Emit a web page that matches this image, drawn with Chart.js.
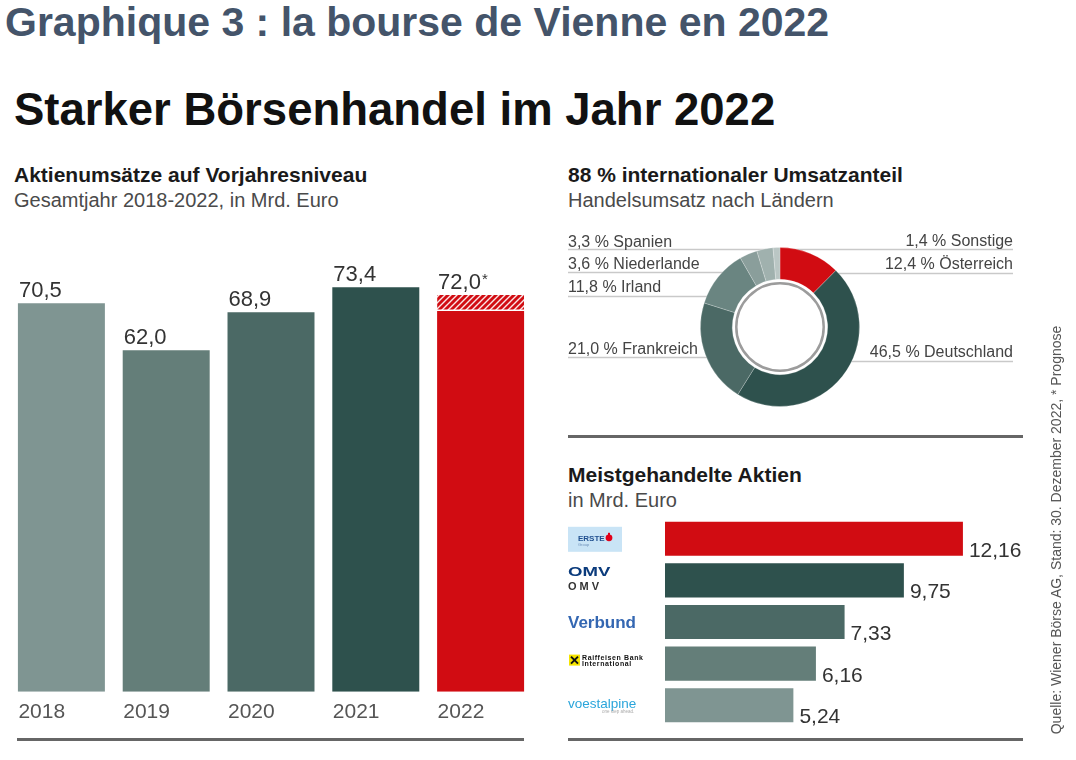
<!DOCTYPE html>
<html lang="de">
<head>
<meta charset="utf-8">
<title>Graphique 3 : la bourse de Vienne en 2022</title>
<script src="https://cdn.jsdelivr.net/npm/chart.js@4.4.1/dist/chart.umd.min.js"></script>
<style>
  html, body { margin: 0; padding: 0; background: #fff; }
  body { width: 1076px; height: 760px; position: relative; overflow: hidden; font-family: "Liberation Sans", Arial, sans-serif; }
  .txt { position: absolute; white-space: nowrap; line-height: 1; }
  .h { font-size: 21px; font-weight: bold; color: #1a1a1a; }
  .sub { font-size: 20px; color: #4a4a4a; }
  .rule { position: absolute; height: 3px; background: #666; }
  canvas { position: absolute; }
  #quelle { position: absolute; left: 844px; top: 522px; width: 424px; height: 16px; line-height: 16px;
            font-size: 14px; color: #555; text-align: center; white-space: nowrap; transform: rotate(-90deg); }
</style>
</head>
<body>
<div class="txt" style="left:5px;top:2px;font-size:41px;font-weight:bold;color:#44546a">Graphique 3 : la bourse de Vienne en 2022</div>
<div class="txt" style="left:14px;top:87px;font-size:45.5px;font-weight:bold;color:#111">Starker Börsenhandel im Jahr 2022</div>

<div class="txt h" style="left:14px;top:164px">Aktienumsätze auf Vorjahresniveau</div>
<div class="txt sub" style="left:14px;top:190px">Gesamtjahr 2018-2022, in Mrd. Euro</div>
<div class="txt h" style="left:568px;top:164px">88 % internationaler Umsatzanteil</div>
<div class="txt sub" style="left:568px;top:190px">Handelsumsatz nach Ländern</div>
<div class="txt h" style="left:568px;top:464px">Meistgehandelte Aktien</div>
<div class="txt sub" style="left:568px;top:490px">in Mrd. Euro</div>

<canvas id="umsatzChart" width="545" height="503" style="left:0;top:230px"></canvas>
<canvas id="laenderChart" width="460" height="200" style="left:560px;top:226px"></canvas>
<canvas id="aktienChart" width="500" height="236" style="left:560px;top:508px"></canvas>

<div class="rule" style="left:17px;top:738px;width:507px"></div>
<div class="rule" style="left:568px;top:435px;width:455px"></div>
<div class="rule" style="left:568px;top:738px;width:455px"></div>
<div id="quelle">Quelle: Wiener Börse AG, Stand: 30. Dezember 2022, * Prognose</div>

<script>
// --- Daten ---
const jahre = ['2018', '2019', '2020', '2021', '2022'];
const umsatzIst = [70.5, 62.0, 68.9, 73.4, 69.1];     // voller Balken
const umsatzPrognose = [0, 0, 0, 0, 2.9];              // schraffierter Teil 2022
const umsatzWerte = [70.5, 62.0, 68.9, 73.4, 72.0];    // Beschriftung
const umsatzStern = [false, false, false, false, true];

const laender = ['Österreich', 'Deutschland', 'Frankreich', 'Irland', 'Niederlande', 'Spanien', 'Sonstige'];
const laenderAnteil = [12.4, 46.5, 21.0, 11.8, 3.6, 3.3, 1.4];

const aktien = ['Erste Group', 'OMV', 'Verbund', 'Raiffeisen Bank International', 'voestalpine'];
const aktienUmsatz = [12.16, 9.75, 7.33, 6.16, 5.24];

// --- Stil ---
const FONT = '"Liberation Sans", Arial, sans-serif';
const ROT = '#d10c12';
const saeulenFarben = ['#7f9592', '#647e79', '#4b6965', '#2e514d', ROT];
const laenderFarben = [ROT, '#2e514d', '#4b6965', '#6a8581', '#8a9e9b', '#a0b1ae', '#bac6c4'];
const aktienFarben = [ROT, '#2e514d', '#4b6965', '#647e79', '#7f9592'];

// Beschriftung der Länder: Seite, Grundlinie, Linie (Seitenkoordinaten)
const laenderZeilen = [
  ['right', 269, 273.5],
  ['right', 357, 361.5],
  ['left', 354, 357.5],
  ['left', 292, 296.5],
  ['left', 269, 272.5],
  ['left', 246.5, 249.5],
  ['right', 245.5, 249.5]
];
const DONUT_LEFT = 560, DONUT_TOP = 226;

Chart.defaults.font.family = FONT;
Chart.defaults.color = '#444';
Chart.defaults.animation = false;

const komma = (v, d) => v.toFixed(d).replace('.', ',');

function schraffur() {
  const c = document.createElement('canvas');
  c.width = 6; c.height = 6;
  const g = c.getContext('2d');
  g.fillStyle = ROT;
  g.fillRect(0, 0, 6, 6);
  g.strokeStyle = 'rgba(255,255,255,0.9)';
  g.lineWidth = 1.4;
  g.beginPath();
  g.moveTo(-1, 7); g.lineTo(7, -1);
  g.moveTo(-1, 1); g.lineTo(1, -1);
  g.moveTo(5, 7); g.lineTo(7, 5);
  g.stroke();
  return g.createPattern(c, 'repeat');
}

// --- Säulen: Aktienumsätze ---
const saeulenWerte = {
  id: 'saeulenWerte',
  afterDatasetsDraw(chart) {
    const ctx = chart.ctx;
    const bars = chart.getDatasetMeta(1).data;
    ctx.save();
    ctx.fillStyle = '#333';
    ctx.textAlign = 'left';
    ctx.textBaseline = 'alphabetic';
    bars.forEach((bar, i) => {
      const x = bar.x - bar.width / 2 + 1;
      const y = bar.y - 6;
      const s = komma(umsatzWerte[i], 1);
      ctx.font = '22px ' + FONT;
      ctx.fillText(s, x, y);
      if (umsatzStern[i]) {
        const w = ctx.measureText(s).width;
        ctx.font = '15px ' + FONT;
        ctx.fillText('*', x + w + 1, y - 5);
      }
    });
    ctx.restore();
  }
};

new Chart(document.getElementById('umsatzChart'), {
  type: 'bar',
  data: {
    labels: jahre,
    datasets: [
      { label: 'Umsatz', data: umsatzIst, backgroundColor: saeulenFarben },
      { label: 'Prognose', data: umsatzPrognose, backgroundColor: schraffur(),
        borderColor: '#fff', borderWidth: { top: 0, left: 0, right: 0, bottom: 1.5 }, borderSkipped: false }
    ]
  },
  options: {
    responsive: false,
    barPercentage: 0.83,
    categoryPercentage: 1,
    layout: { padding: { left: 9, right: 12, top: 21, bottom: 0 } },
    plugins: { legend: { display: false }, tooltip: { enabled: false } },
    scales: {
      x: {
        stacked: true,
        grid: { display: false, drawTicks: false },
        border: { display: false },
        ticks: { color: '#555', font: { size: 21 }, align: 'start', labelOffset: -43, padding: 8 }
      },
      y: { stacked: true, display: false, min: 0, max: 80 }
    }
  },
  plugins: [saeulenWerte]
});

// --- Ring: Umsatz nach Ländern ---
const ringBeschriftung = {
  id: 'ringBeschriftung',
  beforeDatasetsDraw(chart) {
    const arc = chart.getDatasetMeta(0).data[0];
    const cx = arc.x, cy = arc.y, r = arc.outerRadius;
    const ctx = chart.ctx;
    ctx.save();
    ctx.strokeStyle = '#c9c9c9';
    ctx.lineWidth = 1.5;
    laenderZeilen.forEach(([side, , ly]) => {
      const y = ly - DONUT_TOP;
      const dy = y - cy;
      const half = Math.abs(dy) < r ? Math.sqrt(r * r - dy * dy) - 4 : 0;
      ctx.beginPath();
      if (side === 'left') { ctx.moveTo(568 - DONUT_LEFT, y); ctx.lineTo(cx - half, y); }
      else { ctx.moveTo(cx + half, y); ctx.lineTo(1013 - DONUT_LEFT, y); }
      ctx.stroke();
    });
    ctx.restore();
  },
  afterDatasetsDraw(chart) {
    const arc = chart.getDatasetMeta(0).data[0];
    const ctx = chart.ctx;
    ctx.save();
    ctx.strokeStyle = '#9c9c9c';
    ctx.lineWidth = 2.5;
    ctx.beginPath();
    ctx.arc(arc.x, arc.y, arc.innerRadius - 4, 0, Math.PI * 2);
    ctx.stroke();
    ctx.font = '16px ' + FONT;
    ctx.fillStyle = '#444';
    ctx.textBaseline = 'alphabetic';
    laenderZeilen.forEach(([side, base], i) => {
      const s = komma(laenderAnteil[i], 1) + ' % ' + laender[i];
      if (side === 'left') { ctx.textAlign = 'left'; ctx.fillText(s, 568 - DONUT_LEFT, base - DONUT_TOP); }
      else { ctx.textAlign = 'right'; ctx.fillText(s, 1013 - DONUT_LEFT, base - DONUT_TOP); }
    });
    ctx.restore();
  }
};

new Chart(document.getElementById('laenderChart'), {
  type: 'doughnut',
  data: {
    labels: laender,
    datasets: [{
      data: laenderAnteil,
      backgroundColor: laenderFarben,
      borderColor: 'rgba(255,255,255,0.22)',
      borderWidth: 1,
      hoverOffset: 0,
      offset: 0
    }]
  },
  options: {
    responsive: false,
    cutout: '60%',
    layout: { padding: { left: 140, right: 160, top: 21, bottom: 19 } },
    plugins: { legend: { display: false }, tooltip: { enabled: false } }
  },
  plugins: [ringBeschriftung]
});

// --- Balken: Meistgehandelte Aktien ---
function logo(ctx, i, x, cy) {
  ctx.textAlign = 'left';
  ctx.textBaseline = 'alphabetic';
  if (i === 0) {
    ctx.fillStyle = '#c9e4f6';
    ctx.fillRect(x, cy - 12, 54, 25);
    ctx.fillStyle = '#1f4f8f';
    ctx.font = 'bold 8px ' + FONT;
    ctx.fillText('ERSTE', x + 10, cy + 2);
    ctx.fillStyle = '#e2001a';
    ctx.beginPath();
    ctx.arc(x + 41, cy - 1, 3.4, 0, Math.PI * 2);
    ctx.fill();
    ctx.fillRect(x + 40, cy - 6, 2, 3);
    ctx.fillStyle = '#6d8fb8';
    ctx.font = '4px ' + FONT;
    ctx.fillText('Group', x + 10, cy + 7);
  } else if (i === 1) {
    ctx.save();
    ctx.fillStyle = '#0b3b7c';
    ctx.font = '900 12px ' + FONT;
    ctx.translate(x, cy - 4.5);
    ctx.scale(1.55, 1);
    ctx.fillText('OMV', 0, 0);
    ctx.restore();
    ctx.fillStyle = '#333';
    ctx.font = 'bold 11px ' + FONT;
    ctx.letterSpacing = '3px';
    ctx.fillText('OMV', x, cy + 9.5);
    ctx.letterSpacing = '0px';
  } else if (i === 2) {
    ctx.fillStyle = '#3467b2';
    ctx.font = 'bold 17px ' + FONT;
    ctx.fillText('Verbund', x, cy + 6);
  } else if (i === 3) {
    ctx.fillStyle = '#f5e400';
    ctx.fillRect(x + 1, cy - 9, 11, 11);
    ctx.strokeStyle = '#111';
    ctx.lineWidth = 2;
    ctx.beginPath();
    ctx.moveTo(x + 3, cy - 7); ctx.lineTo(x + 10, cy);
    ctx.moveTo(x + 10, cy - 7); ctx.lineTo(x + 3, cy);
    ctx.stroke();
    ctx.fillStyle = '#111';
    ctx.font = 'bold 7px ' + FONT;
    ctx.letterSpacing = '0.6px';
    ctx.fillText('Raiffeisen Bank', x + 14, cy - 4);
    ctx.fillText('International', x + 14, cy + 2);
    ctx.letterSpacing = '0px';
  } else {
    ctx.fillStyle = '#2aa5db';
    ctx.font = '13.5px ' + FONT;
    ctx.fillText('voestalpine', x, cy + 2.5);
    ctx.fillStyle = '#aaa';
    ctx.font = '4.5px ' + FONT;
    ctx.fillText('one step ahead.', x + 34, cy + 8);
  }
}

const aktienBeschriftung = {
  id: 'aktienBeschriftung',
  afterDatasetsDraw(chart) {
    const ctx = chart.ctx;
    ctx.save();
    chart.getDatasetMeta(0).data.forEach((bar, i) => {
      ctx.fillStyle = '#333';
      ctx.font = '21px ' + FONT;
      ctx.textAlign = 'left';
      ctx.textBaseline = 'alphabetic';
      ctx.fillText(komma(aktienUmsatz[i], 2), bar.x + 6, bar.y + bar.height / 2 + 1);
      logo(ctx, i, 8, bar.y);
    });
    ctx.restore();
  }
};

new Chart(document.getElementById('aktienChart'), {
  type: 'bar',
  data: {
    labels: aktien,
    datasets: [{ label: 'Mrd. Euro', data: aktienUmsatz, backgroundColor: aktienFarben }]
  },
  options: {
    responsive: false,
    indexAxis: 'y',
    barPercentage: 0.82,
    categoryPercentage: 1,
    layout: { padding: { left: 105, right: 52, top: 10, bottom: 18 } },
    plugins: { legend: { display: false }, tooltip: { enabled: false } },
    scales: {
      x: { display: false, min: 0, max: 14 },
      y: { display: false }
    }
  },
  plugins: [aktienBeschriftung]
});
</script>
</body>
</html>
